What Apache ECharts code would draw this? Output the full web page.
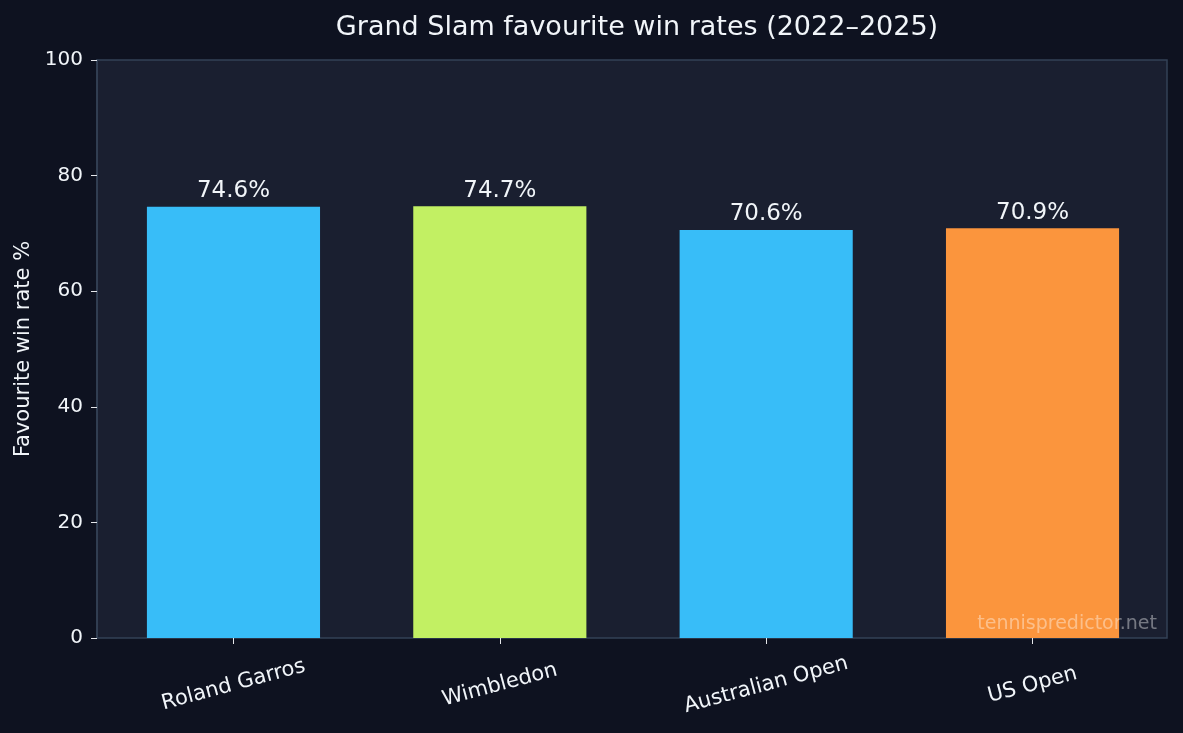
<!DOCTYPE html>
<html>
<head>
<meta charset="utf-8">
<script src="https://cdn.jsdelivr.net/npm/echarts@6/dist/echarts.min.js"></script>
<style>
  html, body { margin: 0; padding: 0; background: #0e1220; }
  #chart { width: 1183px; height: 733px; }
</style>
</head>
<body>
<div id="chart"></div>
<script>
// tournaments and their favourite win rates (%)
const tournaments = ['Roland Garros', 'Wimbledon', 'Australian Open', 'US Open'];
const winRates = [74.6, 74.7, 70.6, 70.9];
const barColors = ['#38bdf8', '#c2f063', '#38bdf8', '#fb953d'];
const yTicks = [0, 20, 40, 60, 80, 100];

const font = "'DejaVu Sans', sans-serif";
const textColor = '#f1f5f9';

const myChart = echarts.init(document.getElementById('chart'));

const option = {
    backgroundColor: '#0e1220',
    animation: false,
    title: {
        text: 'Grand Slam favourite win rates (2022–2025)',
        left: 632,
        top: 9,
        textAlign: 'center',
        textStyle: { color: textColor, fontFamily: font, fontSize: 27, fontWeight: 'normal' }
    },
    // grid 0: the framed plot area + y axis, grid 1: the bars (slightly inset like the original)
    grid: [{
        left: 97, right: 16, top: 60, bottom: 95,
        show: true,
        backgroundColor: '#1a1f30',
        borderColor: '#334155',
        borderWidth: 1.5
    }, {
        left: 100.3, right: 17.3, top: 60, bottom: 95
    }],
    xAxis: [{
        type: 'category', gridIndex: 0, data: tournaments, show: false
    }, {
        type: 'category',
        gridIndex: 1,
        data: tournaments,
        axisLine: { show: false },
        axisTick: { show: true, alignWithLabel: true, length: 6, lineStyle: { color: '#e5e7eb' } },
        axisLabel: {
            color: textColor, fontFamily: font, fontSize: 21,
            rotate: 15, align: 'center', verticalAlign: 'middle', margin: 47
        }
    }],
    yAxis: [{
        type: 'value',
        gridIndex: 0,
        min: 0, max: 100, interval: 20,
        name: 'Favourite win rate %',
        nameLocation: 'middle',
        nameGap: 58,
        nameTextStyle: { color: textColor, fontFamily: font, fontSize: 21 },
        axisLine: { show: true, lineStyle: { color: '#334155', width: 1.5 } },
        axisTick: { show: true, length: 6, lineStyle: { color: '#e5e7eb' } },
        axisLabel: {
            color: textColor, fontFamily: font, fontSize: 20, margin: 14,
            formatter: (v) => (yTicks.includes(v) ? String(v) : '')
        },
        splitLine: { show: false }
    }, {
        type: 'value', gridIndex: 1, min: 0, max: 100, interval: 20, show: false
    }],
    series: [{
        type: 'bar',
        xAxisIndex: 1,
        yAxisIndex: 1,
        barWidth: '65%',
        data: winRates.map((v, i) => ({ value: v, itemStyle: { color: barColors[i] } })),
        label: {
            show: true,
            position: 'top',
            distance: 4,
            color: textColor,
            fontFamily: font,
            fontSize: 23,
            formatter: (p) => p.value.toFixed(1) + '%'
        }
    }],
    graphic: [{
        type: 'text',
        right: 26,
        bottom: 99,
        z: 100,
        style: {
            text: 'tennispredictor.net',
            fill: 'rgba(255,255,255,0.4)',
            font: "19px 'DejaVu Sans', sans-serif"
        }
    }]
};

myChart.setOption(option);
</script>
</body>
</html>
